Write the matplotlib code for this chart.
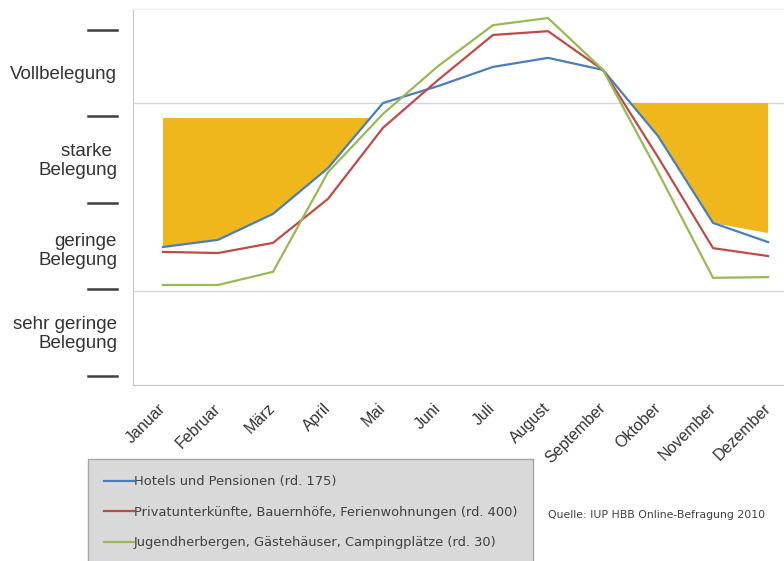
import matplotlib
matplotlib.use("Agg")
import matplotlib.pyplot as plt
import matplotlib.transforms as mtransforms
import numpy as np

plt.rcParams["font.family"] = ["Liberation Sans", "DejaVu Sans"]

months = ["Januar", "Februar", "März", "April", "Mai", "Juni", "Juli",
          "August", "September", "Oktober", "November", "Dezember"]

# Auslastung auf einer Skala 0..100 (25 = geringe, 75 = Vollbelegung)
hotels = [36.7, 38.6, 45.5, 57.7, 75.0, 79.5, 84.6, 87.0, 83.8, 66.2, 43.1, 38.0]
privat = [35.4, 35.1, 37.8, 49.5, 68.4, 81.1, 93.1, 94.1, 83.8, 60.6, 36.4, 34.3]
jugend = [26.6, 26.6, 30.1, 56.6, 72.1, 84.8, 95.7, 97.6, 83.8, 56.6, 28.5, 28.7]

# Kapazitätslücke (gelbe Fläche): untere und obere Grenze je Monat
gap_lower = [36.7, 38.6, 45.5, 57.7, 75.0, 79.5, 84.6, 87.0, 83.8, 66.2, 43.1, 40.4]
gap_upper = [71.0, 71.0, 71.0, 71.0, 71.0, 71.0, 75.0, 75.0, 75.0, 75.0, 75.0, 75.0]

thresholds = [25, 75]
dash_levels = [2.5, 25.5, 48.5, 71.5, 94.5]
zone_labels = ["sehr geringe\nBelegung", "geringe\nBelegung", "starke \nBelegung", "Vollbelegung"]
zone_levels = [13.6, 35.6, 59.6, 82.7]

series_labels = [
    "Hotels und Pensionen (rd. 175)",
    "Privatunterkünfte, Bauernhöfe, Ferienwohnungen (rd. 400)",
    "Jugendherbergen, Gästehäuser, Campingplätze (rd. 30)",
]
source = "Quelle: IUP HBB Online-Befragung 2010"

W, H = 784, 561
fig = plt.figure(figsize=(W / 100, H / 100), dpi=100)
ax = fig.add_axes([133 / W, 1 - 385 / H, 651 / W, 376 / H])

x = np.arange(len(months))
lo = np.array(gap_lower)
hi = np.array(gap_upper)
ax.fill_between(x, lo, hi, where=lo < hi, interpolate=True,
                color="#f0b71c", linewidth=0, zorder=1)

for yv in thresholds:
    ax.axhline(yv, color="#d4d8de", linewidth=1.0, zorder=0.5)

colors = ["#4a7ebb", "#be4b48", "#98b954"]
lines = []
for vals, c, lab in zip([hotels, privat, jugend], colors, series_labels):
    ln, = ax.plot(x, vals, color=c, linewidth=1.6, label=lab, zorder=3,
                  solid_joinstyle="miter")
    lines.append(ln)

ax.set_xlim(-0.545, 11.29)
ax.set_ylim(0, 100)

ax.spines["right"].set_visible(False)
ax.spines["top"].set_color("#ececec")
ax.spines["left"].set_color("#c8c8c8")
ax.spines["bottom"].set_color("#c8c8c8")

ax.set_yticks([])
ax.set_xticks(x)
ax.set_xticklabels(months, rotation=45, ha="right", va="center",
                   rotation_mode="anchor", fontsize=11.5, color="#333333")
ax.tick_params(axis="x", length=0, pad=15)

# Markierungsstriche und Zonenbeschriftung links neben der Achse
trans = mtransforms.blended_transform_factory(ax.transAxes, ax.transData)
for lvl in dash_levels:
    ax.plot([-45 / 651, -16 / 651], [lvl, lvl], transform=trans,
            color="#404040", linewidth=1.8, clip_on=False)
for lab, lvl in zip(zone_labels, zone_levels):
    ax.text(-16 / 651, lvl, lab, transform=trans, ha="right", va="center",
            multialignment="right", fontsize=13.5, color="#333333",
            linespacing=1.2)

leg = ax.legend(handles=lines, loc="upper left",
                bbox_to_anchor=(88 / W, 1 - 460 / H, 445 / W, 0.001),
                bbox_transform=fig.transFigure, mode="expand",
                borderaxespad=0, prop={"family": "DejaVu Sans", "size": 9.4},
                handlelength=2.3, handletextpad=0.0, labelspacing=1.35,
                borderpad=1.2, fancybox=False, frameon=True)
frame = leg.get_frame()
frame.set_facecolor("#d9d9d9")
frame.set_edgecolor("#a6a6a6")
frame.set_alpha(1)
for t in leg.get_texts():
    t.set_color("#404040")

fig.text(548 / W, 1 - 515 / H, source, fontsize=7.8, color="#404040",
         ha="left", va="center", family="DejaVu Sans")

fig.savefig("out.png", dpi=100)
